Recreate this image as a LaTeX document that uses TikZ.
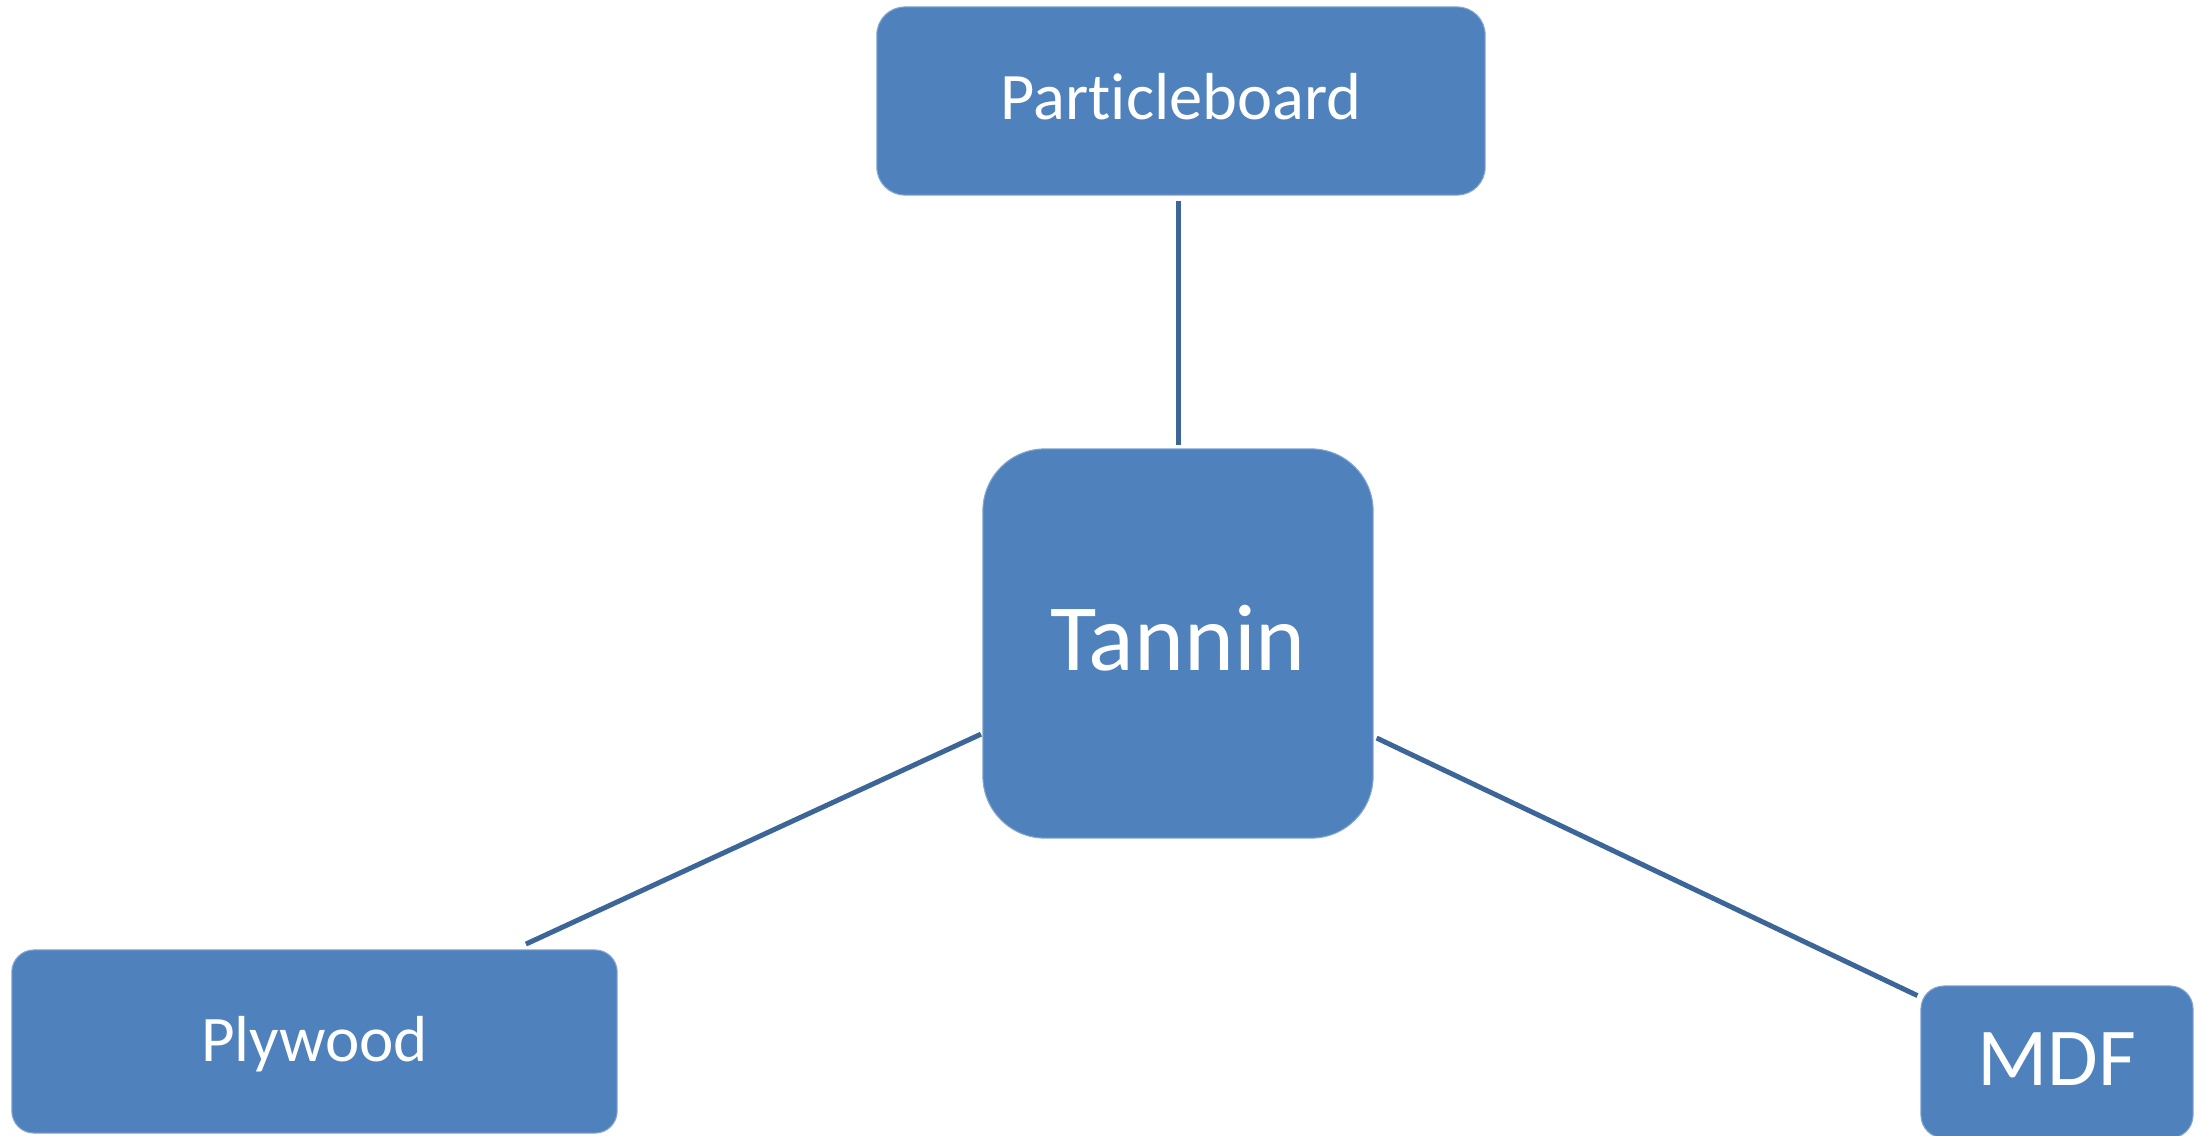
\documentclass[tikz,border=0pt]{standalone}
\usepackage{fontspec}
\setmainfont{Carlito}[Ligatures=NoCommon]
\definecolor{boxblue}{HTML}{4F81BD}
\definecolor{linkblue}{HTML}{3C6697}
\begin{document}
\begin{tikzpicture}[x=0.01cm,y=-0.01cm,
  box/.style={rectangle, fill=boxblue, draw=boxblue!70!white, line width=0.3pt,
    text=white, inner sep=0pt, outer sep=0pt, align=center, text depth=0pt},
  link/.style={draw=linkblue, line width=1.42pt}]
\useasboundingbox (0,0) rectangle (2205,1136);
\fill[white] (0,0) rectangle (2205,1136);

\node[box, minimum width=6.08cm, minimum height=1.88cm, rounded corners=0.28cm,
  font=\fontsize{18.9}{22}\selectfont, text height=10.8pt] (pb) at (1181,101) {Particleboard};
\node[box, minimum width=3.90cm, minimum height=3.89cm, rounded corners=0.62cm,
  font=\fontsize{27}{32}\selectfont, text height=15.1pt] (tannin) at (1178,643.5) {Tannin};
\node[box, minimum width=6.05cm, minimum height=1.83cm, rounded corners=0.22cm,
  font=\fontsize{18.5}{22}\selectfont, text height=11.1pt] (ply) at (314.5,1041.5) {Plywood};
\node[box, minimum width=2.72cm, minimum height=1.52cm, rounded corners=0.23cm,
  font=\fontsize{23.4}{28}\selectfont, text height=13.1pt] (mdf) at (2057,1062) {MDF};

\draw[link, shorten <=1.7pt, shorten >=1.1pt] (tannin.north |- pb.south) -- (tannin.north);
\draw[link, shorten <=0.6pt, shorten >=4pt] (tannin) -- (ply);
\draw[link, shorten <=1.1pt, shorten >=1.1pt] (tannin) -- (mdf);
\end{tikzpicture}
\end{document}
